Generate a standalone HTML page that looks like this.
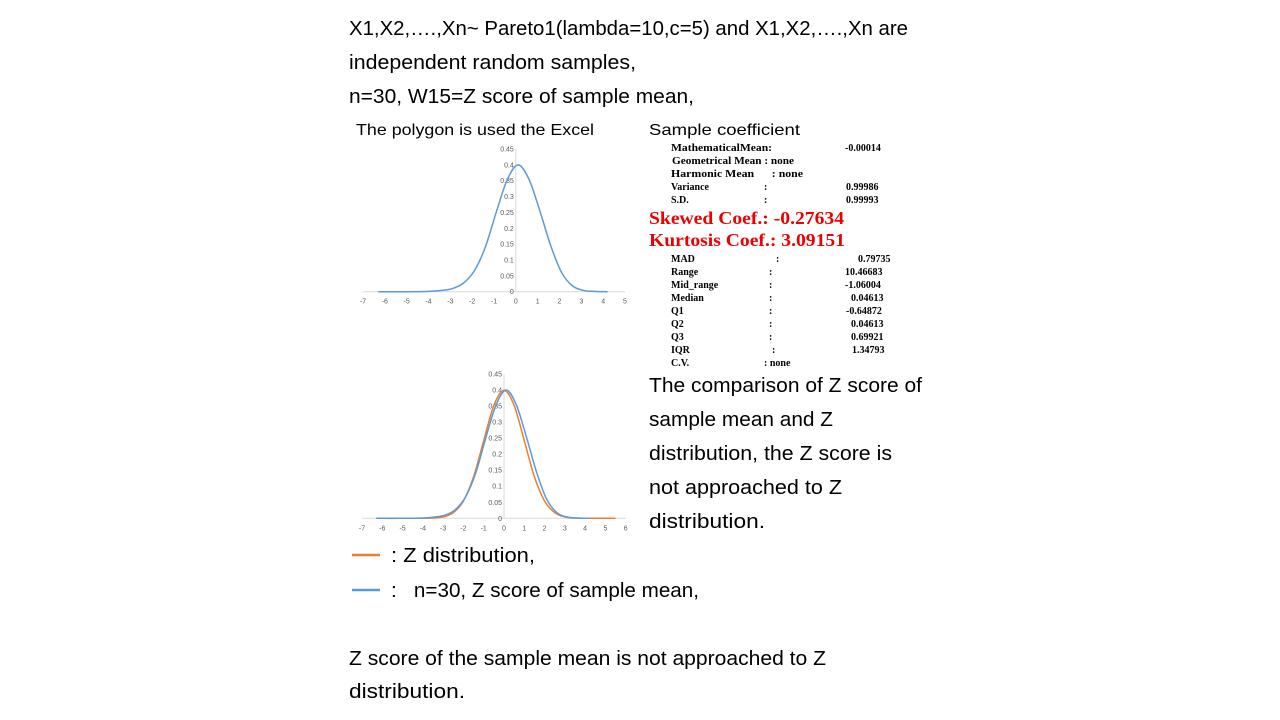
<!DOCTYPE html>
<html><head><meta charset="utf-8"><style>
body{margin:0;background:#fff;}
svg{display:block;}
.t{font-family:"Liberation Sans",sans-serif;font-size:20px;fill:#000;}
.s{font-family:"Liberation Sans",sans-serif;font-size:16px;fill:#000;}
.tb{font-family:"Liberation Serif",serif;font-size:10px;font-weight:bold;fill:#000;}
.red{font-family:"Liberation Serif",serif;font-size:18px;font-weight:bold;fill:#e00;}
.tick{font-family:"Liberation Sans",sans-serif;font-size:7px;fill:#595959;}
</style></head><body>
<svg id="root" width="1280" height="720" viewBox="0 0 1280 720">
<text class="t" x="349" y="35" textLength="559" lengthAdjust="spacingAndGlyphs">X1,X2,….,Xn~ Pareto1(lambda=10,c=5) and X1,X2,….,Xn are</text>
<text class="t" x="349" y="69" textLength="287" lengthAdjust="spacingAndGlyphs">independent random samples,</text>
<text class="t" x="349" y="103" textLength="345" lengthAdjust="spacingAndGlyphs">n=30, W15=Z score of sample mean,</text>
<text class="s" x="356" y="135" textLength="238" lengthAdjust="spacingAndGlyphs">The polygon is used the Excel</text>
<text class="s" x="649" y="135" textLength="151" lengthAdjust="spacingAndGlyphs">Sample coefficient</text>

<g>
<text class="tb" x="671" y="151" textLength="101" lengthAdjust="spacingAndGlyphs">MathematicalMean:</text><text class="tb" x="845" y="151">-0.00014</text>
<text class="tb" x="672" y="164" textLength="122" lengthAdjust="spacingAndGlyphs">Geometrical Mean : none</text>
<text class="tb" x="671" y="177" textLength="132" lengthAdjust="spacingAndGlyphs">Harmonic Mean&#160;&#160;&#160;&#160;&#160;&#160;: none</text>
<text class="tb" x="671" y="190">Variance</text><text class="tb" x="764" y="190">:</text><text class="tb" x="846" y="190">0.99986</text>
<text class="tb" x="671" y="203">S.D.</text><text class="tb" x="764" y="203">:</text><text class="tb" x="846" y="203">0.99993</text>
<text class="red" x="649" y="224" textLength="195" lengthAdjust="spacingAndGlyphs">Skewed Coef.: -0.27634</text>
<text class="red" x="649" y="246" textLength="196" lengthAdjust="spacingAndGlyphs">Kurtosis Coef.: 3.09151</text>
<text class="tb" x="671" y="262">MAD</text><text class="tb" x="776" y="262">:</text><text class="tb" x="858" y="262">0.79735</text>
<text class="tb" x="671" y="275">Range</text><text class="tb" x="769" y="275">:</text><text class="tb" x="845" y="275">10.46683</text>
<text class="tb" x="671" y="288">Mid_range</text><text class="tb" x="769" y="288">:</text><text class="tb" x="845" y="288">-1.06004</text>
<text class="tb" x="671" y="301">Median</text><text class="tb" x="769" y="301">:</text><text class="tb" x="851" y="301">0.04613</text>
<text class="tb" x="671" y="314">Q1</text><text class="tb" x="769" y="314">:</text><text class="tb" x="846" y="314">-0.64872</text>
<text class="tb" x="671" y="327">Q2</text><text class="tb" x="769" y="327">:</text><text class="tb" x="851" y="327">0.04613</text>
<text class="tb" x="671" y="340">Q3</text><text class="tb" x="769" y="340">:</text><text class="tb" x="851" y="340">0.69921</text>
<text class="tb" x="671" y="353">IQR</text><text class="tb" x="772" y="353">:</text><text class="tb" x="852" y="353">1.34793</text>
<text class="tb" x="671" y="366">C.V.</text><text class="tb" x="764" y="366">: none</text>
</g>

<text class="t" x="649" y="392" textLength="273" lengthAdjust="spacingAndGlyphs">The comparison of Z score of</text>
<text class="t" x="649" y="426" textLength="184" lengthAdjust="spacingAndGlyphs">sample mean and Z</text>
<text class="t" x="649" y="460" textLength="243" lengthAdjust="spacingAndGlyphs">distribution, the Z score is</text>
<text class="t" x="649" y="494" textLength="193" lengthAdjust="spacingAndGlyphs">not approached to Z</text>
<text class="t" x="649" y="528" textLength="116" lengthAdjust="spacingAndGlyphs">distribution.</text>

<line x1="352" y1="555" x2="380" y2="555" stroke="#ED7D31" stroke-width="2.5"/>
<text class="t" x="391" y="562" textLength="144" lengthAdjust="spacingAndGlyphs">: Z distribution,</text>
<line x1="352" y1="590" x2="380" y2="590" stroke="#5B9BD5" stroke-width="2.5"/>
<text class="t" x="391" y="597" textLength="308" lengthAdjust="spacingAndGlyphs">:&#160;&#160;&#160;n=30, Z score of sample mean,</text>

<text class="t" x="349" y="665" textLength="477" lengthAdjust="spacingAndGlyphs">Z score of the sample mean is not approached to Z</text>
<text class="t" x="349" y="698" textLength="116" lengthAdjust="spacingAndGlyphs">distribution.</text>

<g id="chart1"></g>
<g id="chart2"></g>
</svg>
<script>
const yTicks = [0,0.05,0.1,0.15,0.2,0.25,0.3,0.35,0.4,0.45];
const xTicks1 = [-7,-6,-5,-4,-3,-2,-1,0,1,2,3,4,5];
const xTicks2 = [-7,-6,-5,-4,-3,-2,-1,0,1,2,3,4,5,6];
const sampleX = [-6.3,-5,-4,-3.4,-2.9,-2.4,-1.9,-1.4,-0.9,-0.4,0.1,0.6,1.1,1.6,2.1,2.6,3.1,3.6,4.2];
const sampleY = [0,0,0.001,0.004,0.01,0.027,0.066,0.14,0.25,0.352,0.400,0.355,0.255,0.145,0.06,0.018,0.004,0.001,0];
const zX = [-6,-5,-4,-3.5,-3,-2.5,-2,-1.5,-1,-0.5,0,0.5,1,1.5,2,2.5,3,3.5,4,5,5.5];
const zY = [0,0,0.0001,0.001,0.0044,0.0175,0.054,0.1295,0.242,0.352,0.399,0.352,0.242,0.1295,0.054,0.0175,0.0044,0.001,0.0001,0,0];

const NS='http://www.w3.org/2000/svg';
function mk(tag,attrs,parent){const e=document.createElementNS(NS,tag);for(const k in attrs)e.setAttribute(k,attrs[k]);parent.appendChild(e);return e;}
function drawChart(g,cfg){
  const sx=v=>cfg.x0+(v-cfg.xmin)/(cfg.xmax-cfg.xmin)*(cfg.x1-cfg.x0);
  const sy=v=>cfg.yb-v/0.45*(cfg.yb-cfg.yt);
  const ax=mk('line',{x1:cfg.x0,y1:cfg.yb,x2:cfg.x1,y2:cfg.yb,stroke:'#d9d9d9','stroke-width':1},g);
  
  
  const ay=mk('line',{x1:sx(0),y1:cfg.yt,x2:sx(0),y2:cfg.yb,stroke:'#d9d9d9','stroke-width':1},g);
  
  
  cfg.xt.forEach(v=>{const t=mk('text',{class:'tick',x:sx(v),y:cfg.yb+12,'text-anchor':'middle'},g);t.textContent=v;
    
    });
  yTicks.forEach(v=>{const t=mk('text',{class:'tick',x:sx(0)-2,y:sy(v)+2.5,'text-anchor':'end'},g);t.textContent=v;
    
    });
  cfg.series.forEach(s=>{
    const pts=s.xs.map((x,i)=>[sx(x),sy(s.ys[i])]);
    let d='M'+pts[0][0]+','+pts[0][1];
    for(let i=0;i<pts.length-1;i++){const p0=pts[Math.max(0,i-1)],p1=pts[i],p2=pts[i+1],p3=pts[Math.min(pts.length-1,i+2)];
      d+=' C'+(p1[0]+(p2[0]-p0[0])/6)+','+(p1[1]+(p2[1]-p0[1])/6)+' '+(p2[0]-(p3[0]-p1[0])/6)+','+(p2[1]-(p3[1]-p1[1])/6)+' '+p2[0]+','+p2[1];}
    const p=mk('path',{d:d,fill:'none',stroke:s.color,'stroke-width':1.5},g);
    
    
  });
}
drawChart(document.getElementById('chart1'),{x0:363,x1:625,xmin:-7,xmax:5,yb:291.7,yt:149,xt:xTicks1,
  series:[{xs:sampleX,ys:sampleY,color:'#5B9BD5',name:'sample-mean-curve'}]});
drawChart(document.getElementById('chart2'),{x0:362,x1:625.7,xmin:-7,xmax:6,yb:518.3,yt:374,xt:xTicks2,
  series:[{xs:zX,ys:zY,color:'#ED7D31',name:'z-distribution-curve'},{xs:sampleX,ys:sampleY,color:'#5B9BD5',name:'sample-mean-curve'}]});
</script>
</body></html>
